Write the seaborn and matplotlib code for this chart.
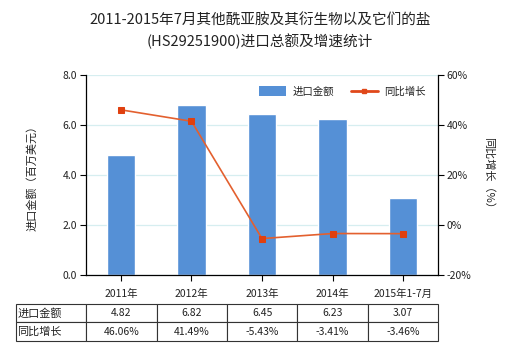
import matplotlib
matplotlib.use("Agg")
import matplotlib.pyplot as plt
from matplotlib.patches import Patch
from matplotlib.lines import Line2D
import seaborn as sns
import pandas as pd
import numpy as np

categories = ["2011年", "2012年", "2013年", "2014年", "2015年1-7月"]
import_values = [4.82, 6.82, 6.45, 6.23, 3.07]
growth_values = [46.06, 41.49, -5.43, -3.41, -3.46]
value_labels = ["4.82", "6.82", "6.45", "6.23", "3.07"]
growth_labels = ["46.06%", "41.49%", "-5.43%", "-3.41%", "-3.46%"]
series_names = ["进口金额", "同比增长"]
title = "2011-2015年7月其他酰亚胺及其衍生物以及它们的盐\n(HS29251900)进口总额及增速统计"
left_label = "进口金额（百万美元）"
right_label = "同比增长（%）"

sns.set_theme(style="white")
plt.rcParams['font.family'] = ['Noto Sans CJK SC', 'DejaVu Sans']
plt.rcParams['axes.unicode_minus'] = False

bar_color = "#5590d6"
line_color = "#e3602f"
marker_color = "#e0400f"
text_color = "#222222"

fig = plt.figure(figsize=(5.2, 3.5), dpi=100)
W, H = 520, 350
x0, x1 = 85.7, 438.3
yb, yt = 275, 75
ax = fig.add_axes([x0 / W, 1 - yb / H, (x1 - x0) / W, (yb - yt) / H])

df = pd.DataFrame({"cat": categories, "val": import_values, "g": growth_values})
sns.barplot(data=df, x="cat", y="val", color=bar_color, width=0.41, ax=ax,
            saturation=1)
ax.set_ylim(0, 8)
ax.set_yticks(np.arange(0, 8.01, 2))
ax.set_yticklabels([f"{v:.1f}" for v in np.arange(0, 8.01, 2)])
ax.set_xlim(-0.5, 4.5)
ax.set_xlabel("")
ax.set_ylabel(left_label, fontsize=8, color=text_color, labelpad=18)
ax.grid(axis="y", color="#d6eef0", linewidth=0.9)
ax.set_axisbelow(True)
for s in ["top", "right"]:
    ax.spines[s].set_visible(False)
for s in ["left", "bottom"]:
    ax.spines[s].set_color("black")
    ax.spines[s].set_linewidth(0.9)
ax.tick_params(axis="y", left=True, length=4, width=0.8, color="black",
               labelsize=7.5, labelcolor=text_color, pad=2)
ax.tick_params(axis="x", bottom=True, length=4, width=0.8, color="black",
               labelsize=7.5, labelcolor=text_color, pad=6)

ax2 = ax.twinx()
sns.lineplot(x=np.arange(len(categories)), y=growth_values, ax=ax2, color=line_color,
             linewidth=1.2, marker="s", markersize=4.5, markerfacecolor=marker_color,
             markeredgecolor=marker_color, legend=False)
ax2.set_ylim(-20, 60)
ax2.set_yticks([-20, 0, 20, 40, 60])
ax2.set_yticklabels([f"{v}%" for v in [-20, 0, 20, 40, 60]])
ax2.grid(False)
for s in ["top", "left", "bottom"]:
    ax2.spines[s].set_visible(False)
ax2.spines["right"].set_color("black")
ax2.spines["right"].set_linewidth(0.9)
ax2.tick_params(axis="y", right=True, length=4, width=0.8, color="black",
                labelsize=7.5, labelcolor=text_color, pad=2)
ax2.set_ylabel(right_label, fontsize=8, color=text_color, rotation=-90, labelpad=16)

# legend
handles = [Patch(facecolor=bar_color, edgecolor="none"),
           Line2D([0], [0], color="#e0481a", linewidth=2, marker="s", markersize=3.5,
                  markerfacecolor="#e0481a", markeredgecolor="#e0481a")]
leg = ax2.legend(handles, series_names, loc="upper right", bbox_to_anchor=(0.99, 0.99),
                 ncol=2, frameon=False, fontsize=7.5, handlelength=2.6, handleheight=1.1,
                 columnspacing=1.6, handletextpad=0.6)
for t in leg.get_texts():
    t.set_color(text_color)

fig.text(0.5, 1 - 31 / H, title, ha="center", va="center", fontsize=10.5,
         color=text_color, linespacing=1.5)

# table
ty0, ty1 = 304, 340.7
tx0 = 15.7
bbox = [(tx0 - x0) / (x1 - x0), (yb - ty1) / (yb - yt), (x1 - tx0) / (x1 - x0),
        (ty1 - ty0) / (yb - yt)]
cell_text = [[series_names[0]] + value_labels, [series_names[1]] + growth_labels]
tbl = ax.table(cellText=cell_text, cellLoc="center", bbox=bbox)
tbl.auto_set_font_size(False)
for (r, c), cell in tbl.get_celld().items():
    cell.set_edgecolor("#333333")
    cell.set_linewidth(0.8)
    cell.get_text().set_fontsize(7.5 if c else 8)
    cell.get_text().set_color(text_color)
    if c == 0:
        cell.get_text().set_ha("left")
        cell._loc = "left"
        cell.PAD = 0.02

fig.savefig("out.png", dpi=100)
